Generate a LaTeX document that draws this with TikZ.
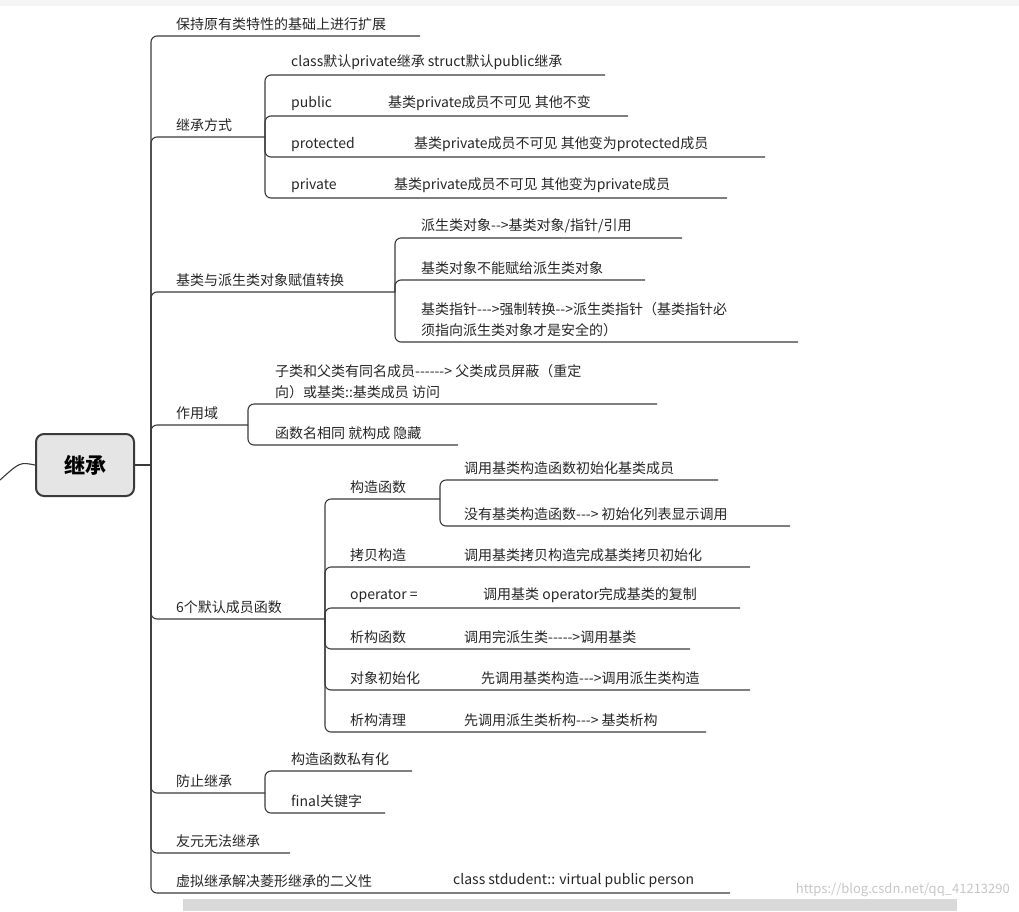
\documentclass[tikz,border=0pt]{standalone}
\usepackage{fontspec}
\setmainfont{Noto Sans CJK SC}
\usetikzlibrary{positioning}
\definecolor{linec}{HTML}{3A3A3A}
\tikzset{
  branch/.style={draw=linec, line width=1.1pt, rounded corners=6pt},
  lbl/.style={anchor=south west, inner sep=0pt, font=\fontsize{14}{21}\selectfont, text=black!85, align=left},
}
\begin{document}
\begin{tikzpicture}[x=1pt,y=-1pt]
\useasboundingbox (0,0) rectangle (1019,911);
\fill[gray!8] (0,0) rectangle (1019,6);
\fill[gray!30] (183,899) rectangle (957,911);
\node[anchor=south east, inner sep=0pt, text=gray!45, font=\fontsize{13}{15}\selectfont] (mark) at (1010,897) {https://blog.csdn.net/qq\_41213290};
% root
\node[draw=linec, line width=2pt, fill=gray!20, rounded corners=8pt, minimum width=98pt, minimum height=62pt, font=\fontsize{21}{24}\selectfont\bfseries] (root) at (85,465) {继承};
\draw[branch] (root.west) .. controls (20,462) .. (0,480);
\coordinate (trunk) at (151,465);
\draw[branch] (root.east) -- (trunk);
% level 1
\node[lbl] (keep) at (176,31) {保持原有类特性的基础上进行扩展};
\node[lbl] (mode) at (176,132) {继承方式};
\node[lbl] (conv) at (176,287) {基类与派生类对象赋值转换};
\node[lbl] (scope) at (176,420) {作用域};
\node[lbl] (six) at (176,614) {6个默认成员函数};
\node[lbl] (stop) at (176,788) {防止继承};
\node[lbl] (friend) at (176,848) {友元无法继承};
\node[lbl] (virt) at (176,888) {虚拟继承解决菱形继承的二义性};
\node[lbl] (virtc) at (453,888) {class stdudent:: virtual public person};
\draw[branch] (trunk) |- (420,36);
\draw[branch] (trunk) |- (265,137);
\draw[branch] (trunk) |- (395,292);
\draw[branch] (trunk) |- (248,425);
\draw[branch] (trunk) |- (325,619);
\draw[branch] (trunk) |- (265,793);
\draw[branch] (trunk) |- (290,853);
\draw[branch] (trunk) |- (730,893);
% inheritance modes
\node[lbl] (dflt) at (291,70) {class默认private继承 struct默认public继承};
\node[lbl] (pub) at (291,111) {public};
\node[lbl] (pubc) at (388,111) {基类private成员不可见 其他不变};
\node[lbl] (prot) at (291,152) {protected};
\node[lbl] (protc) at (414,152) {基类private成员不可见 其他变为protected成员};
\node[lbl] (priv) at (291,193) {private};
\node[lbl] (privc) at (394,193) {基类private成员不可见  其他变为private成员};
\foreach \y/\e in {75/605,116/628,157/765,198/727}
  \draw[branch] (265,137) |- (\e,\y);
% conversion
\node[lbl] (c1) at (421,233) {派生类对象-{}-{}>基类对象/指针/引用};
\node[lbl] (c2) at (421,275) {基类对象不能赋给派生类对象};
\node[lbl] (c3) at (421,337) {基类指针-{}-{}-{}>强制转换-{}-{}>派生类指针（基类指针必\\须指向派生类对象才是安全的）};
\foreach \y/\e in {238/682,280/645,342/798}
  \draw[branch] (395,292) |- (\e,\y);
% scope
\node[lbl] (s1) at (275,399) {子类和父类有同名成员-{}-{}-{}-{}-{}-{}>  父类成员屏蔽（重定\\向）或基类::基类成员   访问};
\node[lbl] (s2) at (275,440) {函数名相同 就构成  隐藏};
\foreach \y/\e in {404/657,445/458}
  \draw[branch] (248,425) |- (\e,\y);
% six default members
\node[lbl] (ctor) at (350,494) {构造函数};
\node[lbl] (ctor1) at (464,475) {调用基类构造函数初始化基类成员};
\node[lbl] (ctor2) at (464,521) {没有基类构造函数-{}-{}->  初始化列表显示调用};
\node[lbl] (copy) at (350,562) {拷贝构造};
\node[lbl] (copyc) at (464,562) {调用基类拷贝构造完成基类拷贝初始化};
\node[lbl] (oper) at (350,603) {operator =};
\node[lbl] (operc) at (483,603) {调用基类 operator完成基类的复制};
\node[lbl] (dtor) at (350,644) {析构函数};
\node[lbl] (dtorc) at (464,644) {调用完派生类-{}-{}-{}-{}->调用基类};
\node[lbl] (init) at (350,685) {对象初始化};
\node[lbl] (initc) at (481,685) {先调用基类构造-{}-{}->调用派生类构造};
\node[lbl] (clean) at (350,727) {析构清理};
\node[lbl] (cleanc) at (464,727) {先调用派生类析构-{}-{}-> 基类析构};
\foreach \y/\e in {499/440,567/750,608/740,649/690,690/750,732/706}
  \draw[branch] (325,619) |- (\e,\y);
\foreach \y/\e in {480/718,526/790}
  \draw[branch] (440,499) |- (\e,\y);
% prevent inheritance
\node[lbl] (p1) at (291,766) {构造函数私有化};
\node[lbl] (p2) at (291,808) {final关键字};
\foreach \y/\e in {771/412,813/385}
  \draw[branch] (265,793) |- (\e,\y);
\end{tikzpicture}
\end{document}
